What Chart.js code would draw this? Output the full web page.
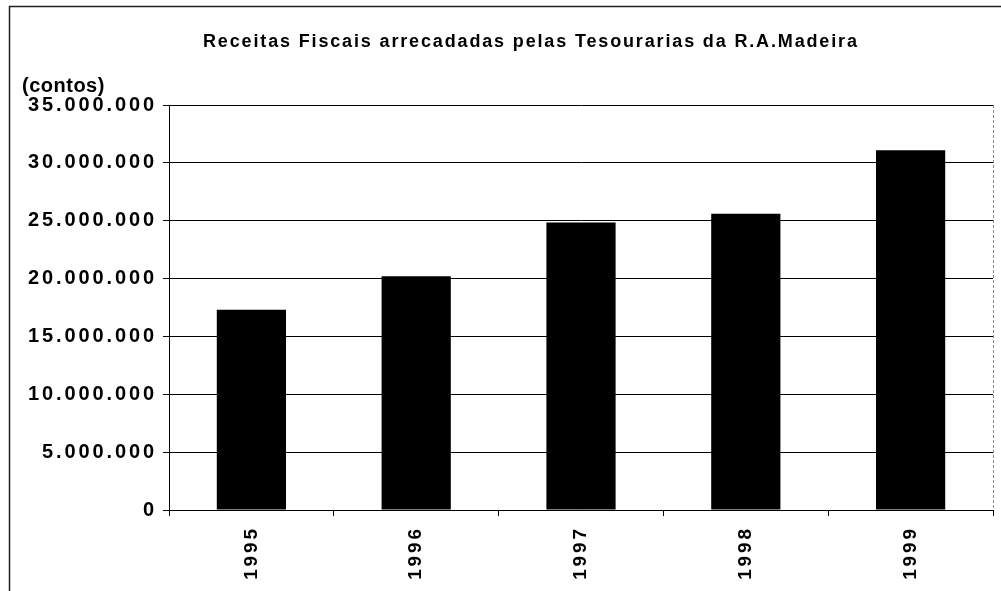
<!DOCTYPE html>
<html>
<head>
<meta charset="utf-8">
<script src="https://cdn.jsdelivr.net/npm/chart.js@4.4.1/dist/chart.umd.min.js"></script>
<style>
  html, body { margin: 0; padding: 0; background: #fff; }
  #wrap { width: 1001px; height: 591px; position: relative; }
</style>
</head>
<body>
<div id="wrap"><canvas id="c" width="1001" height="591"></canvas></div>
<script>
const chartTitle = "Receitas Fiscais arrecadadas pelas Tesourarias da R.A.Madeira";
const unitLabel = "(contos)";
const categories = ["1995", "1996", "1997", "1998", "1999"];
const receitas = [17300000, 20200000, 24850000, 25600000, 31100000];
const yTicks = [0, 5000000, 10000000, 15000000, 20000000, 25000000, 30000000, 35000000];

function fmt(v) {
  return String(Math.round(v)).replace(/\B(?=(\d{3})+(?!\d))/g, ".");
}

const FONT = "'Liberation Sans', Arial, sans-serif";

const decor = {
  id: 'decor',
  beforeDraw(chart) {
    const ctx = chart.ctx;
    ctx.save();
    ctx.fillStyle = '#fff';
    ctx.fillRect(0, 0, chart.width, chart.height);
    ctx.restore();
    ctx.letterSpacing = '2.9px';
  },
  afterDraw(chart) {
    const ctx = chart.ctx;
    const a = chart.chartArea;
    ctx.save();
    // outer frame
    ctx.strokeStyle = '#222';
    ctx.lineWidth = 1.5;
    ctx.beginPath();
    ctx.moveTo(9.5, chart.height);
    ctx.lineTo(9.5, 6.5);
    ctx.lineTo(chart.width, 6.5);
    ctx.stroke();
    // right edge of plot area
    ctx.strokeStyle = '#888';
    ctx.lineWidth = 1;
    ctx.setLineDash([3, 2]);
    ctx.beginPath();
    ctx.moveTo(a.right + 0.5, a.top);
    ctx.lineTo(a.right + 0.5, a.bottom);
    ctx.stroke();
    ctx.setLineDash([]);
    // texts
    ctx.fillStyle = '#000';
    ctx.textBaseline = 'alphabetic';
    ctx.textAlign = 'left';
    ctx.letterSpacing = '1.85px';
    ctx.font = "bold 18px " + FONT;
    ctx.fillText(chartTitle, 203, 47);
    ctx.letterSpacing = '0.5px';
    ctx.font = "bold 20px " + FONT;
    ctx.fillText(unitLabel, 22, 92);
    ctx.restore();
  }
};

new Chart(document.getElementById('c'), {
  type: 'bar',
  data: {
    labels: categories,
    datasets: [{
      data: receitas,
      backgroundColor: '#000',
      borderWidth: 0,
      barPercentage: 0.42,
      categoryPercentage: 1.0
    }]
  },
  options: {
    responsive: false,
    animation: false,
    devicePixelRatio: 1,
    layout: { padding: { top: 105, right: 8, bottom: 0, left: 0 } },
    plugins: { legend: { display: false }, tooltip: { enabled: false }, title: { display: false } },
    scales: {
      x: {
        afterFit(s) { s.height = 81; },
        grid: { display: true, drawOnChartArea: false, drawTicks: true, tickLength: 6, color: '#000', offset: true },
        border: { display: true, color: '#000', width: 1 },
        ticks: {
          color: '#000',
          font: { family: FONT, size: 19, weight: 'bold' },
          maxRotation: 90, minRotation: 90,
          padding: 10
        }
      },
      y: {
        min: 0, max: 35000000,
        afterFit(s) { s.width = 169; },
        afterBuildTicks(s) { s.ticks = yTicks.map(v => ({ value: v })); },
        grid: { color: '#000', lineWidth: 1, drawTicks: true, tickLength: 6 },
        border: { display: true, color: '#000', width: 1 },
        ticks: {
          color: '#000',
          font: { family: FONT, size: 20, weight: 'bold' },
          padding: 6,
          callback: v => fmt(v)
        }
      }
    }
  },
  plugins: [decor]
});
</script>
</body>
</html>
